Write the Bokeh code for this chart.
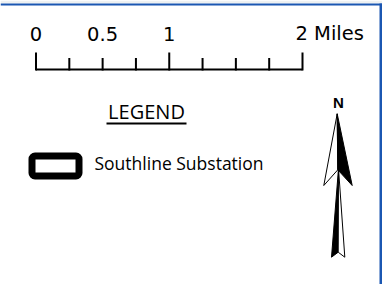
from bokeh.plotting import figure
from bokeh.models import Range1d
from bokeh.core.properties import value
from bokeh.embed import file_html
from bokeh.resources import INLINE

# ---- data ----
scale_ticks_miles = [0, 0.25, 0.5, 0.75, 1, 1.25, 1.5, 1.75, 2]
scale_major = [True, False, False, False, True, False, False, False, True]
scale_label_pos = [0, 0.5, 1]
scale_labels = ["0", "0.5", "1"]
scale_end_label = "2 Miles"
scale_end_pos = 2
legend_title = "LEGEND"
legend_items = ["Southline Substation"]
north_label = "N"

W, H = 382, 284
p = figure(width=W, height=H, x_range=Range1d(0, W), y_range=Range1d(H, 0),
           output_backend="svg", toolbar_location=None,
           x_axis_type=None, y_axis_type=None,
           min_border=0, min_border_left=0, min_border_right=0,
           min_border_top=0, min_border_bottom=0)
p.grid.visible = False
p.outline_line_color = None
p.background_fill_color = "white"
p.border_fill_color = "white"

# miles scale: 0 mi at x=35.5px, 133.25 px per mile
ppm = 133.25
x0 = 35.5
p.extra_x_ranges = {"miles": Range1d((0 - x0) / ppm, (W - x0) / ppm)}

# scale bar baseline
p.segment(x0=[scale_ticks_miles[0]], x1=[scale_ticks_miles[-1]], y0=[69], y1=[69],
          x_range_name="miles", line_color="black", line_width=2)
tick_top = [52 if m else 57.5 for m in scale_major]
p.segment(x0=scale_ticks_miles, x1=scale_ticks_miles, y0=[70] * len(scale_ticks_miles), y1=tick_top,
          x_range_name="miles", line_color="black", line_width=2)

p.text(x=scale_label_pos, y=[33] * len(scale_labels), text=scale_labels, x_range_name="miles",
       text_font=value("DejaVu Sans"), text_font_size="19.5px", text_align="center",
       text_baseline="alphabetic", text_color="black")
p.text(x=[scale_end_pos], y=[33], text=[scale_end_label], x_range_name="miles",
       text_font=value("DejaVu Sans"), text_font_size="19.5px", text_align="left",
       text_baseline="alphabetic", text_color="black", x_offset=-7)

# legend title
p.text(x=[146], y=[111], text=[legend_title], text_font=value("Open Sans"),
       text_font_size="20px", text_align="center", text_baseline="alphabetic", text_color="black")
p.segment(x0=[106], x1=[186], y0=[123], y1=[123], line_color="black", line_width=2)

# legend swatch
p.quad(left=[31.5], right=[78.5], top=[155.5], bottom=[175.5], fill_color="white",
       line_color="black", line_width=7, line_join="round", border_radius=3)
p.text(x=[94], y=[162], text=legend_items, text_font=value("Open Sans"),
       text_font_size="17.5px", text_align="left", text_baseline="alphabetic", text_color="black")

# north arrow
p.text(x=[338], y=[101.5], text=[north_label], text_font=value("Liberation Sans"),
       text_font_size="15px", text_font_style="bold", text_align="center",
       text_baseline="alphabetic", text_color="black")
p.patch([336.7, 323.3, 337.3], [113.3, 185, 169.3], fill_color="white", line_color="black", line_width=1)
p.patch([336.7, 337.3, 351.7], [113.3, 169.3, 185], fill_color="black", line_color="black", line_width=1)
p.patch([338, 331, 337.7], [168, 256.7, 251.7], fill_color="black", line_color="black", line_width=1)
p.patch([338, 337.7, 344.3], [168, 251.7, 256.7], fill_color="white", line_color="black", line_width=1)

# blue frame
p.quad(left=[0], right=[W], top=[0], bottom=[3], fill_color="#eef1f2", line_color=None)
p.quad(left=[W - 3], right=[W], top=[3], bottom=[H], fill_color="#1b57b2", line_color=None)
p.quad(left=[0], right=[W], top=[3], bottom=[5], fill_color="#1b57b2", line_color=None)

open("out.html", "w").write(file_html(p, INLINE))
